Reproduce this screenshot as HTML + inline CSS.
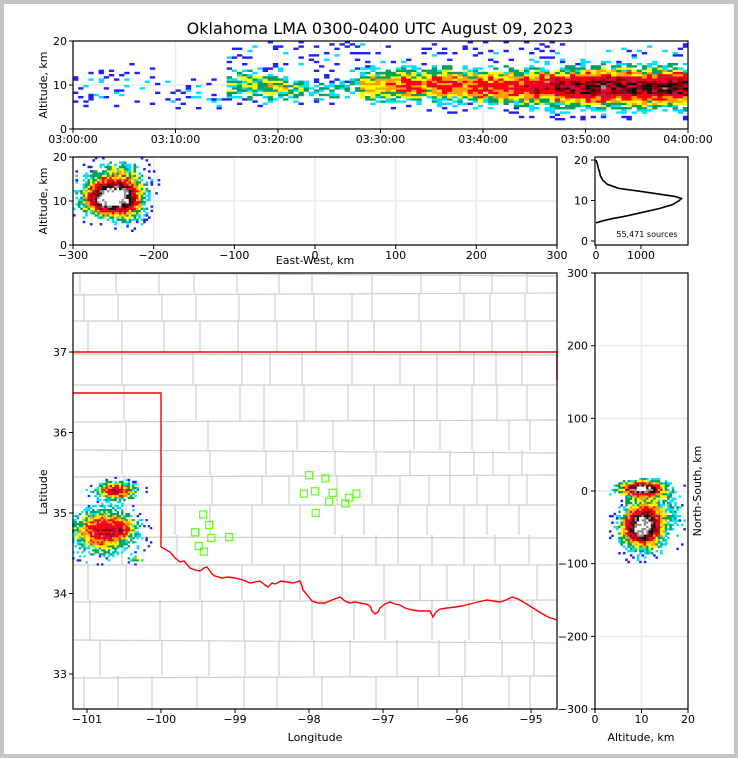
<!DOCTYPE html>
<html><head><meta charset="utf-8">
<style>
html,body{margin:0;padding:0;background:#c4c4c4;}
#wrap{position:absolute;left:4px;top:4px;width:730px;height:750px;background:#fff;}
svg{position:absolute;left:0;top:0;}
text{font-family:"DejaVu Sans","Liberation Sans",sans-serif;fill:#000;}
</style></head>
<body>
<div id="wrap"></div>
<svg id="fig" width="738" height="758" viewBox="0 0 738 758">
<text x="380" y="34" font-size="16" text-anchor="middle">Oklahoma LMA 0300-0400 UTC August 09, 2023</text>
<g id="map-counties" stroke="#cfcfcf" stroke-width="1.2" fill="none"></g>
<path id="state-border" stroke="#ff0000" stroke-width="1.4" fill="none"
 d="M73,352 L557,352 L557,380 M73,393 L161,393 L161,547 L170,552 L175,558 L180,562 L184,561 L190,568 L195,570 L200,571 L204,568 L207,567 L212,574 L215,576 L222,578 L228,577 L235,578 L243,580 L250,583 L255,582 L260,581 L265,585 L268,587 L272,583 L275,584 L281,581 L287,582 L293,583 L300,581 L302,586 L303,590 L308,596 L312,601 L318,603 L325,603 L332,600 L340,597 L345,601 L350,603 L355,602 L360,603 L366,604 L370,606 L372,611 L375,614 L378,612 L380,608 L385,604 L390,602 L395,604 L400,605 L405,608 L412,610 L420,611 L430,611 L432,615 L433,617 L436,612 L440,609 L447,608 L455,607 L462,606 L470,604 L478,602 L487,600 L493,601 L500,602 L506,600 L512,597 L518,599 L525,603 L533,608 L541,613 L548,617 L557,620"/>
<g id="layer-marks"></g>
<g id="layer-axes"></g>
</svg>
<script>
// ---------- data ----------
var minutePeak = [1.1,1.1,1.1,1.0,1.2,1.4,1.2,1.3,1.1,1.0,1.0,1.0,1.0,1.1,1.2, 3.2,3.6,3.8,3.8,4,3.8,3.2,2.8, 2.4,2.6,2.6,2.4,2.6, 4.5,5,5.5,5.5,6,6,5.5, 6,6.5,6.5,6,6.5,6.5,6.5, 7,7,7,7.5,7.5, 8,8.3,8.3,8.5,8.8,8.8,8.8,8.8,8.5,8.5,8.8,8.8,8.5];
var minuteCenter = [9,9,10,11,9,11,10,10,9,9,8,8,8,8,8, 10,10,10,10,9.5,9.5,9,9, 8.5,8.5,8.5,9,9.5, 10,10,10,10,10,10,10, 10,10,10,10,9.5,9.5,9.5, 9.5,9.5,9.5,9.5,9.5, 9.5,9.5,9.5,9.5,9.5,9.5,9.5,9.5,9.5,9.5,9.5,9.5,9.5];
var minuteWidth = [4,4,4,4,4,4,4,4,4,4,3.5,3.5,3.5,3.5,3.5, 3.6,3.6,3.6,3.6,3.6,3.4,3.2,3, 2.8,2.8,2.8,2.8,2.8, 3.6,3.6,3.6,3.6,3.6,3.6,3.6, 3.8,3.8,3.8,3.8,3.8,3.8,3.8, 4,4,4,4,4, 4.2,4.2,4.2,4.2,4.2,4.2,4.2,4.2,4.2,4.2,4.2,4.2,4.2];
var timeTicks = ["03:00:00","03:10:00","03:20:00","03:30:00","03:40:00","03:50:00","04:00:00"];
// east-west/altitude blob components: x km, z km, sx, sz, amplitude
var ewX = [-255,-245,-228];
var ewZ = [10.5,15.5,10];
var ewSX = [30,34,18];
var ewSZ = [3.6,4,5];
var ewAmp = [12,3.5,3];
// map blob components: lon, lat, sLon, sLat, amplitude
var mapLon = [-100.6,-100.78,-100.5,-100.33];
var mapLat = [35.28,34.78,34.8,34.43];
var mapSLon = [0.25,0.4,0.15,0.1];
var mapSLat = [0.1,0.26,0.1,0.04];
var mapAmp = [7.8,7.5,2.5,4];
// north-south/altitude blob components: alt km, ns km, sAlt, sNS, amplitude
var nsAlt = [10,10,14];
var nsNS = [3,-50,-30];
var nsSAlt = [4.5,4,6];
var nsSNS = [10,28,40];
var nsAmp = [10.5,10.5,2.5];
// altitude histogram profile
var profAlt = [4.5,5,5.5,6,7,8,9,10,10.5,11,12,13,14,15,16,17,18,19,20];
var profCount = [0,150,350,600,1000,1400,1700,1850,1900,1750,1150,500,250,150,100,80,50,30,0];
var sourceCount = "55,471 sources";
// stations
var staLon = [-98.0,-97.78,-98.07,-97.92,-97.73,-97.68,-97.51,-97.46,-97.36,-97.91,-99.43,-99.35,-99.54,-99.32,-99.49,-99.42,-99.08];
var staLat = [35.47,35.43,35.24,35.27,35.14,35.25,35.12,35.19,35.24,35.0,34.98,34.85,34.76,34.69,34.59,34.52,34.7];
var lonTicks = [-101,-100,-99,-98,-97,-96,-95];
var latTicks = [33,34,35,36,37];

// ---------- helpers ----------
var NS = "http://www.w3.org/2000/svg";
var marks = document.getElementById('layer-marks');
var axes = document.getElementById('layer-axes');
var cmap = ['#2020ff','#00e0ff','#00a060','#ffff00','#ffa000','#ff0000','#e00040','#900000','#101010','#909090','#ffffff'];
function el(tag, attrs, parent){var e=document.createElementNS(NS,tag);for(var k in attrs)e.setAttribute(k,attrs[k]);(parent||marks).appendChild(e);return e;}
function hash(i,j){var h=(i*73856093)^(j*19349663)^(i*j*83492791);h=(h>>>0)%1000;return h/1000;}
function lin(d0,d1,p0,p1){return function(v){return p0+(v-d0)/(d1-d0)*(p1-p0);};}
function cellColor(v,i,j){
  if(v<0.4)return null;
  var h=hash(i+7,j+13), h2=hash(j*3+101,i*5+17);
  var lv=v+(h-0.5)*2.6;
  if(lv<0.8)return null;
  if(v<1.6&&h2<0.72)return null;
  if(lv<2.3&&h<0.5)return null;
  var k=Math.min(cmap.length-1,Math.max(0,Math.floor(lv-0.8)));return cmap[k];}
function gsum(a,b,X,Y,SX,SY,A){var s=0;for(var k=0;k<A.length;k++){var dx=(a-X[k])/SX[k],dy=(b-Y[k])/SY[k];s+=A[k]*Math.exp(-(dx*dx+dy*dy));}return s;}

// ---------- panel 1: time-height ----------
var tx=lin(0,60,73,688), tz=lin(0,20,129,41);
var g1=el('g',{});


[0,10,20,30,40,50,60].forEach(function(m){el('line',{x1:tx(m),x2:tx(m),y1:41,y2:129,stroke:'#ebebeb','stroke-width':1.5},g1);});
[10].forEach(function(z){el('line',{x1:73,x2:688,y1:tz(z),y2:tz(z),stroke:'#ebebeb','stroke-width':1.5},g1);});
for(var ci=0;ci<120;ci++){
  var m=Math.floor(ci/2), pk=minutePeak[m], c=minuteCenter[m], w=minuteWidth[m];
  for(var zj=0;zj<40;zj++){
    var z=zj*0.5+0.25, d=(z-c)/w;
    var v=pk*Math.exp(-d*d);
    if(pk>2 && z>c-w) v=Math.max(v,1.15*Math.exp(-Math.pow((z-c-3)/9,2)));
    var col=cellColor(v,ci,zj); if(!col)continue;
    var r=el('rect',{x:tx(ci*0.5),y:tz(z+0.25),width:tx(0.5)-tx(0)+0.2,height:tz(0)-tz(0.5)+0.2,fill:col},g1);
    
    
  }
}
// ---------- panel 2: east-west vs altitude ----------
var ex=lin(-300,300,73,557), ez=lin(0,20,245,157);
var g2=el('g',{});


[-200,-100,0,100,200].forEach(function(x){el('line',{x1:ex(x),x2:ex(x),y1:157,y2:245,stroke:'#ebebeb','stroke-width':1.5},g2);});
el('line',{x1:73,x2:557,y1:ez(10),y2:ez(10),stroke:'#ebebeb','stroke-width':1.5},g2);
for(var i=0;i<36;i++){for(var j=0;j<40;j++){
  var x=-300+i*3+1.5, z=j*0.5+0.25;
  var v=gsum(x,z,ewX,ewZ,ewSX,ewSZ,ewAmp);
  var col=cellColor(v,i+300,j); if(!col)continue;
  var r=el('rect',{x:ex(x-1.5),y:ez(z+0.25),width:2.6,height:2.4,fill:col},g2);
  
  
}}
// ---------- panel 3: profile ----------
var px=lin(0,1000,596,641), pz=lin(0,20,241,160);
var g3=el('g',{});


var pd=profAlt.map(function(a,k){return (k?'L':'M')+px(profCount[k]).toFixed(1)+','+pz(a).toFixed(1);}).join(' ');
var pl=el('path',{d:pd,stroke:'#000','stroke-width':1.6,fill:'none'},g3);


var st=el('text',{x:647,y:237,'font-size':8,'text-anchor':'middle'},g3);st.textContent=sourceCount;


// ---------- panel 4: map ----------
var mx=lin(-101,-95,87,531), my=lin(37,33,352,674);
var rows=[[273,293,[80,114,155,194,235,275,312,370,417,460,490,523]],[293,321,[82,114,162,194,235,275,312,348,372,417,460,490,523]],[321,352,[84,122,162,196,238,275,312,348,372,417,460,490,523]],
[352,385,[122,191,238,270,300,348,400,435,470,496,520]],[385,420,[122,192,240,262,300,348,372,410,437,470,493,527]],[420,450,[122,208,262,293,333,372,410,440,470,505,530]],
[450,475,[122,208,262,293,333,372,410,448,470,493,520]],[475,505,[122,208,262,287,333,372,398,425,450,475,505,527]],[505,535,[122,175,208,248,300,333,360,398,425,460,487,517]],
[535,565,[122,175,248,300,340,372,398,430,460,495,527]],[565,600,[86,122,200,240,280,300,340,380,420,445,470,500,535]],[600,640,[86,160,200,240,280,310,350,385,430,465,500,530]],
[640,676,[100,160,205,245,277,310,350,395,435,465,500,530]],[676,709,[82,114,152,195,240,277,320,372,418,460,505,530]]];
var gc=document.getElementById('map-counties');
rows.forEach(function(r,k){
  el('line',{x1:73,x2:557,y1:r[0]+(k%2?2:0),y2:r[0]+(k%3?0:3)},gc);
  r[2].forEach(function(xx,n){var o=((k+n)%3)*2;el('line',{x1:xx+o,x2:xx+o,y1:r[0],y2:r[1]},gc);});
});
var g4=el('g',{});


for(var i=0;i<40;i++){for(var j=0;j<50;j++){
  var lo=-101.2+i*0.03+0.015, la=34.3+j*0.025+0.0125;
  var v=gsum(lo,la,mapLon,mapLat,mapSLon,mapSLat,mapAmp);
  var col=cellColor(v,i+900,j); if(!col)continue;
  var r=el('rect',{x:mx(lo-0.015),y:my(la+0.0125),width:2.4,height:2.2,fill:col},g4);
  
  
}}
staLon.forEach(function(lo,k){
  var s=el('rect',{x:mx(lo)-3.5,y:my(staLat[k])-3.5,width:7,height:7,fill:'none',stroke:'#66ff22','stroke-width':1.3});
  
  
});
// ---------- panel 5: NS vs altitude ----------
var nx=lin(0,20,595,688), ny=lin(300,-300,273,709);
var g5=el('g',{});


el('line',{x1:nx(10),x2:nx(10),y1:273,y2:709,stroke:'#ebebeb','stroke-width':1.5},g5);
[200,100,0,-100,-200].forEach(function(v){el('line',{x1:595,x2:688,y1:ny(v),y2:ny(v),stroke:'#ebebeb','stroke-width':1.5},g5);});
for(var i=0;i<40;i++){for(var j=0;j<45;j++){
  var a=i*0.5+0.25, n=18-j*3-1.5;
  var v=gsum(a,n,nsAlt,nsNS,nsSAlt,nsSNS,nsAmp);
  var col=cellColor(v,i+500,j+40); if(!col)continue;
  var r=el('rect',{x:nx(a-0.25),y:ny(n+1.5),width:2.5,height:2.4,fill:col},g5);
  
  
}}
// ---------- axes ----------
function frame(x,y,w,h,name){var f=el('rect',{x:x,y:y,width:w,height:h,fill:'none',stroke:'#000','stroke-width':1.2},axes);}
function txt(x,y,s,anchor,size,rot,name){var t=el('text',{x:x,y:y,'font-size':size||11,'text-anchor':anchor||'middle'},axes);if(rot)t.setAttribute('transform','rotate(-90 '+x+' '+y+')');t.textContent=s;return t;}
function tick(x1,y1,x2,y2){el('line',{x1:x1,y1:y1,x2:x2,y2:y2,stroke:'#000','stroke-width':1},axes);}
frame(73,41,615,88,'time-height-axes');
timeTicks.forEach(function(s,k){var x=tx(k*10);tick(x,129,x,133);txt(x,143,s,'middle',11,0,'x-tick-label');});
[0,10,20].forEach(function(v){tick(69,tz(v),73,tz(v));txt(67,tz(v)+4,String(v),'end',11,0,'y-tick-label');});
txt(47,85,'Altitude, km','middle',11,1,'y-axis-title');
frame(73,157,484,88,'ew-altitude-axes');
[-300,-200,-100,0,100,200,300].forEach(function(v){tick(ex(v),245,ex(v),249);txt(ex(v),259,(v<0?'\u2212':'')+Math.abs(v),'middle',11,0,'x-tick-label');});
[0,10,20].forEach(function(v){tick(69,ez(v),73,ez(v));txt(67,ez(v)+4,String(v),'end',11,0,'y-tick-label');});
txt(47,201,'Altitude, km','middle',11,1,'y-axis-title');
txt(315,264,'East-West, km','middle',11,0,'x-axis-title');
frame(595,157,93,88,'profile-axes');
[0,1000].forEach(function(v){tick(px(v),245,px(v),249);txt(px(v),259,String(v),'middle',11,0,'x-tick-label');});
[0,10,20].forEach(function(v){tick(591,pz(v),595,pz(v));txt(588,pz(v)+4,String(v),'end',11,0,'y-tick-label');});
frame(73,273,484,436,'map-axes');
lonTicks.forEach(function(v){tick(mx(v),709,mx(v),713);txt(mx(v),723,'\u2212'+Math.abs(v),'middle',11,0,'x-tick-label');});
latTicks.forEach(function(v){tick(69,my(v),73,my(v));txt(67,my(v)+4,String(v),'end',11,0,'y-tick-label');});
txt(315,741,'Longitude','middle',11,0,'x-axis-title');
txt(47,492,'Latitude','middle',11,1,'y-axis-title');
frame(595,273,93,436,'ns-altitude-axes');
[0,10,20].forEach(function(v){tick(nx(v),709,nx(v),713);txt(nx(v),723,String(v),'middle',11,0,'x-tick-label');});
[300,200,100,0,-100,-200,-300].forEach(function(v){tick(591,ny(v),595,ny(v));txt(588,ny(v)+4,(v<0?'\u2212':'')+Math.abs(v),'end',11,0,'y-tick-label');});
txt(641,741,'Altitude, km','middle',11,0,'x-axis-title');
txt(701,491,'North-South, km','middle',11,1,'y-axis-title');
</script>
</body></html>
